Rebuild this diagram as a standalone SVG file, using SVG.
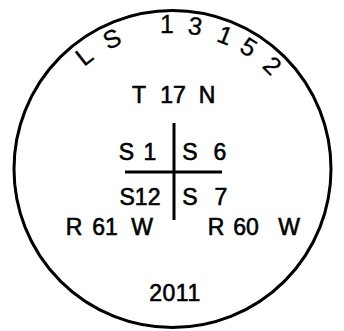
<svg xmlns="http://www.w3.org/2000/svg" width="344" height="331" viewBox="0 0 344 331">
<style>
text{font-family:"Liberation Sans",Arial,sans-serif;font-size:23px;fill:#000;stroke:#000;stroke-width:0.6;text-anchor:middle}
.arc{font-size:25px;stroke-width:0.3}
.ln{stroke:#000;stroke-width:3;fill:none}
</style>
<rect width="344" height="331" fill="#fff"/>
<g id="border"><circle cx="172.5" cy="169" r="158.5" class="ln" stroke-width="3.5"/></g>
<g id="arc-label">
<text class="arc" x="172.5" y="34" transform="rotate(-38 172.5 169)">L</text>
<text class="arc" x="172.5" y="34" transform="rotate(-25 172.5 169)">S</text>
<text class="arc" x="167" y="33">1</text>
<text class="arc" x="172.5" y="33" transform="rotate(9 172.5 169)">3</text>
<text class="arc" x="172.5" y="34" transform="rotate(21.5 172.5 169)">1</text>
<text class="arc" x="172.5" y="34" transform="rotate(32 172.5 169)">5</text>
<text class="arc" x="172.5" y="34" transform="rotate(44 172.5 169)">2</text>
</g>
<g id="township">
<text x="139" y="103">T</text><text x="173" y="103">17</text><text x="207" y="103">N</text>
</g>
<g id="connectors">
<line x1="174" y1="123" x2="174" y2="220" class="ln"/>
<line x1="125" y1="172" x2="222" y2="172" class="ln"/>
</g>
<g id="s1"><text x="126.5" y="160">S</text><text x="150" y="160">1</text></g>
<g id="s6"><text x="190" y="160">S</text><text x="220" y="160">6</text></g>
<g id="s12"><text x="140" y="205">S12</text></g>
<g id="s7"><text x="190" y="205">S</text><text x="221" y="205">7</text></g>
<g id="r61"><text x="74" y="235">R</text><text x="105" y="235">61</text><text x="142" y="235">W</text></g>
<g id="r60"><text x="216" y="235">R</text><text x="246" y="235">60</text><text x="289" y="235">W</text></g>
<g id="year"><text x="175" y="301" letter-spacing="0.5">2011</text></g>
</svg>
